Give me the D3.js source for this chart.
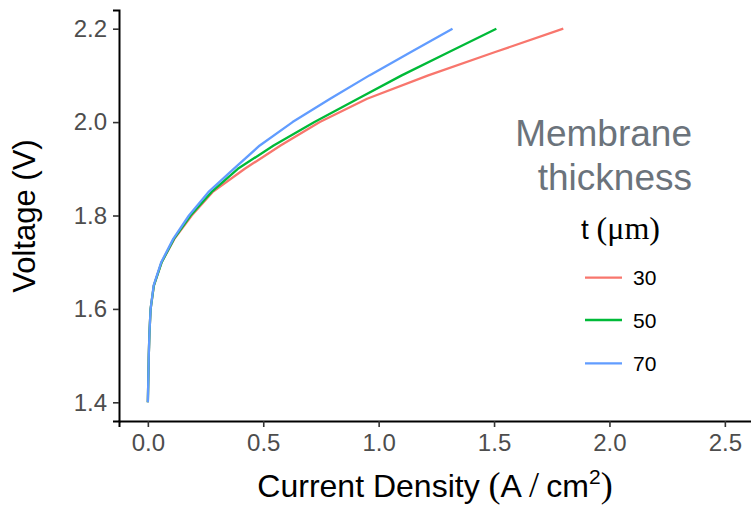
<!DOCTYPE html>
<html>
<head>
<meta charset="utf-8">
<script src="https://cdn.jsdelivr.net/npm/d3@7"></script>
<style>
  html, body { margin: 0; padding: 0; background: #fff; }
  svg { display: block; }
</style>
</head>
<body>
<svg id="chart" width="751" height="505"></svg>
<script>
// ---- Data ----
const voltage = [1.40, 1.45, 1.50, 1.55, 1.60, 1.65, 1.70, 1.75, 1.80, 1.85, 1.90, 1.95, 2.00, 2.05, 2.10, 2.15, 2.20];
const current30 = [0.000, 0.002, 0.004, 0.007, 0.012, 0.026, 0.060, 0.115, 0.190, 0.280, 0.420, 0.575, 0.745, 0.950, 1.215, 1.505, 1.800];
const current50 = [0.000, 0.002, 0.004, 0.007, 0.012, 0.026, 0.060, 0.113, 0.185, 0.275, 0.390, 0.545, 0.722, 0.910, 1.100, 1.305, 1.510];
const current70 = [0.000, 0.002, 0.004, 0.007, 0.012, 0.025, 0.058, 0.110, 0.178, 0.262, 0.372, 0.485, 0.627, 0.790, 0.960, 1.140, 1.320];
const thicknessLabels = ["30", "50", "70"];
const seriesColors = ["#F8766D", "#00BA38", "#619CFF"];
const xTicks = [0.0, 0.5, 1.0, 1.5, 2.0, 2.5];
const yTicks = [1.4, 1.6, 1.8, 2.0, 2.2];

const SANS = "Liberation Sans, Arial, sans-serif";
const SERIF = "Liberation Serif, Times New Roman, serif";

const seriesValues = [current30, current50, current70];
const series = thicknessLabels.map((lab, i) => ({
  label: lab,
  color: seriesColors[i],
  points: voltage.map((v, k) => ({ j: seriesValues[i][k], v: v }))
}));

const svg = d3.select("#chart");
const x = d3.scaleLinear().domain([-0.125, 2.625]).range([119, 753.7]);
const y = d3.scaleLinear().domain([1.36, 2.24]).range([421, 10]);

const tickColor = "#4d4d4d";

// Y axis
const yAxis = svg.append("g").attr("transform", "translate(119,0)")
  .call(d3.axisLeft(y).tickValues(yTicks).tickFormat(d3.format(".1f")).tickSizeOuter(0).tickSize(6).tickPadding(6));
yAxis.select(".domain").attr("stroke", "#000").attr("stroke-width", 2);
yAxis.selectAll(".tick line").attr("stroke", "#333").attr("stroke-width", 1.6);
yAxis.selectAll(".tick text").attr("fill", tickColor).style("font-size", "24px").style("font-family", SANS);

// X axis
const xAxis = svg.append("g").attr("transform", "translate(0,421)")
  .call(d3.axisBottom(x).tickValues(xTicks).tickFormat(d3.format(".1f")).tickSizeOuter(0).tickSize(6).tickPadding(7));
xAxis.select(".domain").attr("stroke", "#000").attr("stroke-width", 2);
xAxis.selectAll(".tick line").attr("stroke", "#333").attr("stroke-width", 1.6);
xAxis.selectAll(".tick text").attr("fill", tickColor).style("font-size", "24px").style("font-family", SANS);

// Lines
const line = d3.line().x(d => x(d.j)).y(d => y(d.v));
svg.append("g").selectAll("path.series")
  .data(series)
  .join("path")
  .attr("class", "series")
  .attr("d", d => line(d.points))
  .attr("fill", "none")
  .attr("stroke", d => d.color)
  .attr("stroke-width", 2.3)
  .attr("stroke-linejoin", "round");

// X axis title
const xt = svg.append("text")
  .attr("x", 435).attr("y", 497)
  .attr("text-anchor", "middle")
  .attr("fill", "#000")
  .style("font-family", SANS)
  .style("font-size", "32px");
xt.append("tspan").text("Current Density ");
xt.append("tspan").style("font-family", SERIF).style("font-size", "36px").text("(");
xt.append("tspan").text("A");
xt.append("tspan").style("font-family", SERIF).style("font-size", "36px").text("\u2009/\u2009");
xt.append("tspan").text("cm");
xt.append("tspan").attr("dy", -13).style("font-size", "21px").text("2");
xt.append("tspan").attr("dy", 13).style("font-family", SERIF).style("font-size", "36px").text(")");

// Y axis title
svg.append("text")
  .attr("transform", "translate(35,216) rotate(-90)")
  .attr("text-anchor", "middle")
  .attr("fill", "#000")
  .style("font-family", SANS)
  .style("font-size", "31px")
  .text("Voltage (V)");

// Legend
const legendGray = "#6b737b";
svg.append("text").attr("x", 692).attr("y", 146).attr("text-anchor", "end")
  .attr("fill", legendGray).style("font-family", SANS).style("font-size", "37px").text("Membrane");
svg.append("text").attr("x", 692).attr("y", 190).attr("text-anchor", "end")
  .attr("fill", legendGray).style("font-family", SANS).style("font-size", "37px").text("thickness");

const lt = svg.append("text").attr("x", 581).attr("y", 239).attr("fill", "#000")
  .style("font-family", SANS).style("font-size", "28px");
lt.append("tspan").text("t ");
lt.append("tspan").style("font-family", SERIF).style("font-size", "32px").text("(μm)");

const keyY = [277.7, 320, 363.3];
const lg = svg.append("g").selectAll("g.key").data(series).join("g").attr("class", "key");
lg.append("line")
  .attr("x1", 585).attr("x2", 622)
  .attr("y1", (d, i) => keyY[i]).attr("y2", (d, i) => keyY[i])
  .attr("stroke", d => d.color).attr("stroke-width", 2.3);
lg.append("text")
  .attr("x", 633).attr("y", (d, i) => keyY[i] + 7.5)
  .attr("fill", "#000").style("font-family", SANS).style("font-size", "21px")
  .text(d => d.label);
</script>
</body>
</html>
